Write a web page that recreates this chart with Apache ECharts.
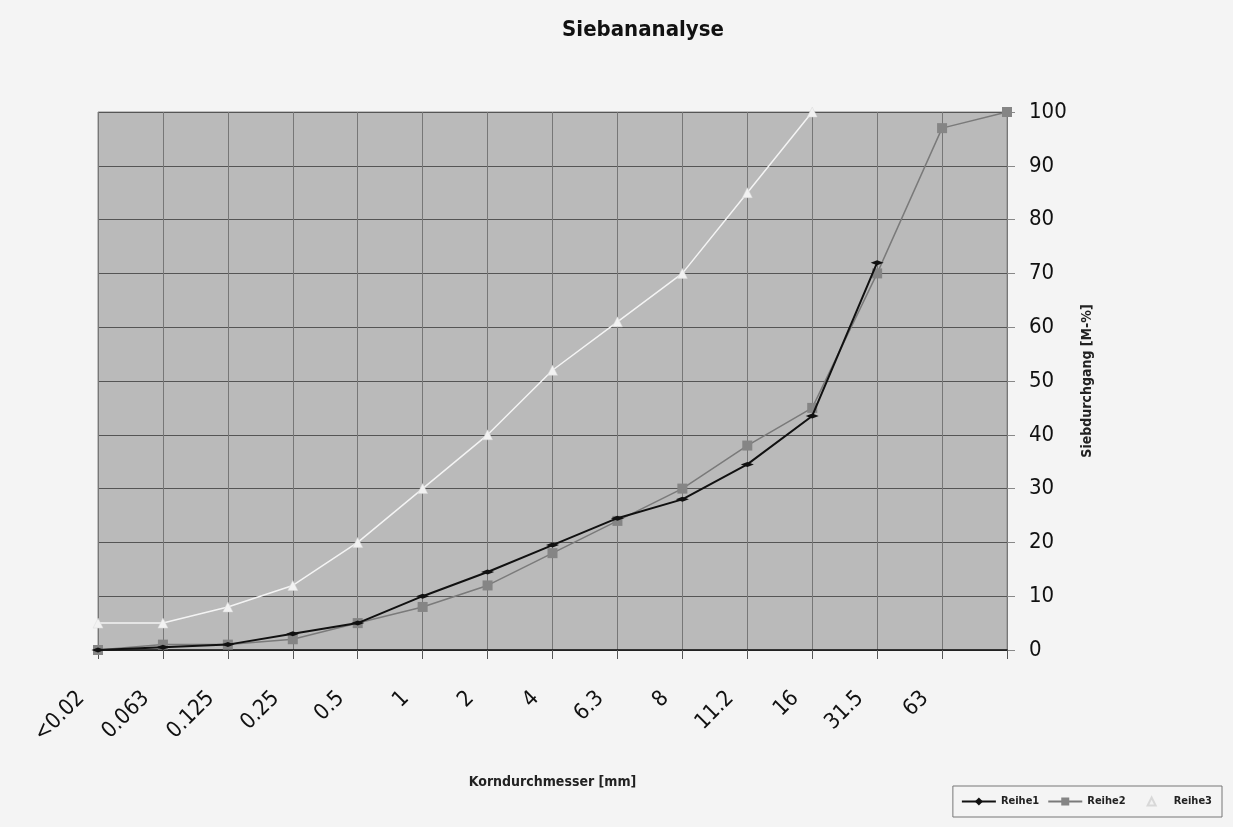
<!DOCTYPE html>
<html>
<head>
<meta charset="utf-8">
<title>Siebananalyse</title>
<script src="https://cdn.jsdelivr.net/npm/echarts@6/dist/echarts.min.js"></script>
<style>
  html, body { margin: 0; padding: 0; background: #f4f4f4; }
  #chart { width: 1233px; height: 827px; }
</style>
</head>
<body>
<div id="chart"></div>
<script>
// Sieve sizes (mm); the last position carries no label
const sieveSizes = ['<0.02', '0.063', '0.125', '0.25', '0.5', '1', '2', '4', '6.3', '8', '11.2', '16', '31.5', '63', ''];

// Passing percentage by mass [M-%]
const reihe1 = [0, 0.5, 1, 3, 5, 10, 14.5, 19.5, 24.5, 28, 34.5, 43.5, 72];
const reihe2 = [0, 1, 1, 2, 5, 8, 12, 18, 24, 30, 38, 45, 70, 97, 100];
const reihe3 = [5, 5, 8, 12, 20, 30, 40, 52, 61, 70, 85, 100];

const yTicks = { min: 0, max: 100, interval: 10 };

const FONT = '"DejaVu Sans Condensed", "Liberation Sans Narrow", sans-serif';

const chart = echarts.init(document.getElementById('chart'));

chart.setOption({
  backgroundColor: '#f4f4f4',
  animation: false,
  title: {
    text: 'Siebananalyse',
    left: 638,
    textAlign: 'center',
    top: 14,
    textStyle: { fontFamily: FONT, fontSize: 22, fontWeight: 'bold', color: '#111' }
  },
  grid: {
    left: 98, right: 226, top: 112, bottom: 177,
    show: true,
    backgroundColor: '#bababa',
    borderColor: '#8a8a8a',
    borderWidth: 1
  },
  legend: {
    right: 11,
    bottom: 10,
    orient: 'horizontal',
    padding: [10, 10, 10, 8],
    itemGap: 8,
    itemWidth: 34,
    itemHeight: 10,
    borderColor: '#777',
    borderWidth: 1,
    textStyle: { fontFamily: FONT, fontSize: 11, fontWeight: 'bold', color: '#222' },
    data: ['Reihe1', 'Reihe2', 'Reihe3']
  },
  xAxis: {
    type: 'category',
    data: sieveSizes,
    boundaryGap: false,
    name: 'Korndurchmesser [mm]',
    nameLocation: 'middle',
    nameGap: 125,
    nameTextStyle: { fontFamily: FONT, fontSize: 14, fontWeight: 'bold', color: '#222' },
    axisLine: { show: true, lineStyle: { color: '#111', width: 1.5 } },
    axisTick: { show: true, alignWithLabel: true, length: 9, lineStyle: { color: '#555' } },
    axisLabel: {
      rotate: 45,
      interval: 0,
      margin: 28,
      padding: [0, 24, 0, 0],
      fontFamily: FONT,
      fontSize: 22,
      color: '#111'
    },
    splitLine: { show: true, lineStyle: { color: '#777', width: 1 } }
  },
  yAxis: {
    type: 'value',
    position: 'right',
    min: yTicks.min,
    max: yTicks.max,
    interval: yTicks.interval,
    name: 'Siebdurchgang [M-%]',
    nameLocation: 'middle',
    nameGap: 73,
    nameRotate: 90,
    nameTextStyle: { fontFamily: FONT, fontSize: 14, fontWeight: 'bold', color: '#222' },
    axisLine: { show: true, lineStyle: { color: '#777', width: 1 } },
    axisTick: { show: true, length: 8, lineStyle: { color: '#888' } },
    axisLabel: { margin: 22, fontFamily: FONT, fontSize: 22, color: '#111' },
    splitLine: { show: true, lineStyle: { color: '#555', width: 1 } }
  },
  series: [
    {
      name: 'Reihe1',
      type: 'line',
      data: reihe1,
      z: 4,
      symbol: 'diamond',
      symbolSize: [13, 5],
      itemStyle: { color: '#111' },
      lineStyle: { color: '#111', width: 2 }
    },
    {
      name: 'Reihe2',
      type: 'line',
      data: reihe2,
      z: 3,
      symbol: 'rect',
      symbolSize: 10,
      itemStyle: { color: '#858585' },
      lineStyle: { color: '#7a7a7a', width: 1.5 }
    },
    {
      name: 'Reihe3',
      type: 'line',
      data: reihe3,
      z: 2,
      symbol: 'triangle',
      symbolSize: 10,
      itemStyle: { color: '#f2f2f2', borderColor: '#d8d8d8', borderWidth: 0.5 },
      lineStyle: { color: '#f4f4f4', width: 1.5 }
    }
  ]
});
</script>
</body>
</html>
